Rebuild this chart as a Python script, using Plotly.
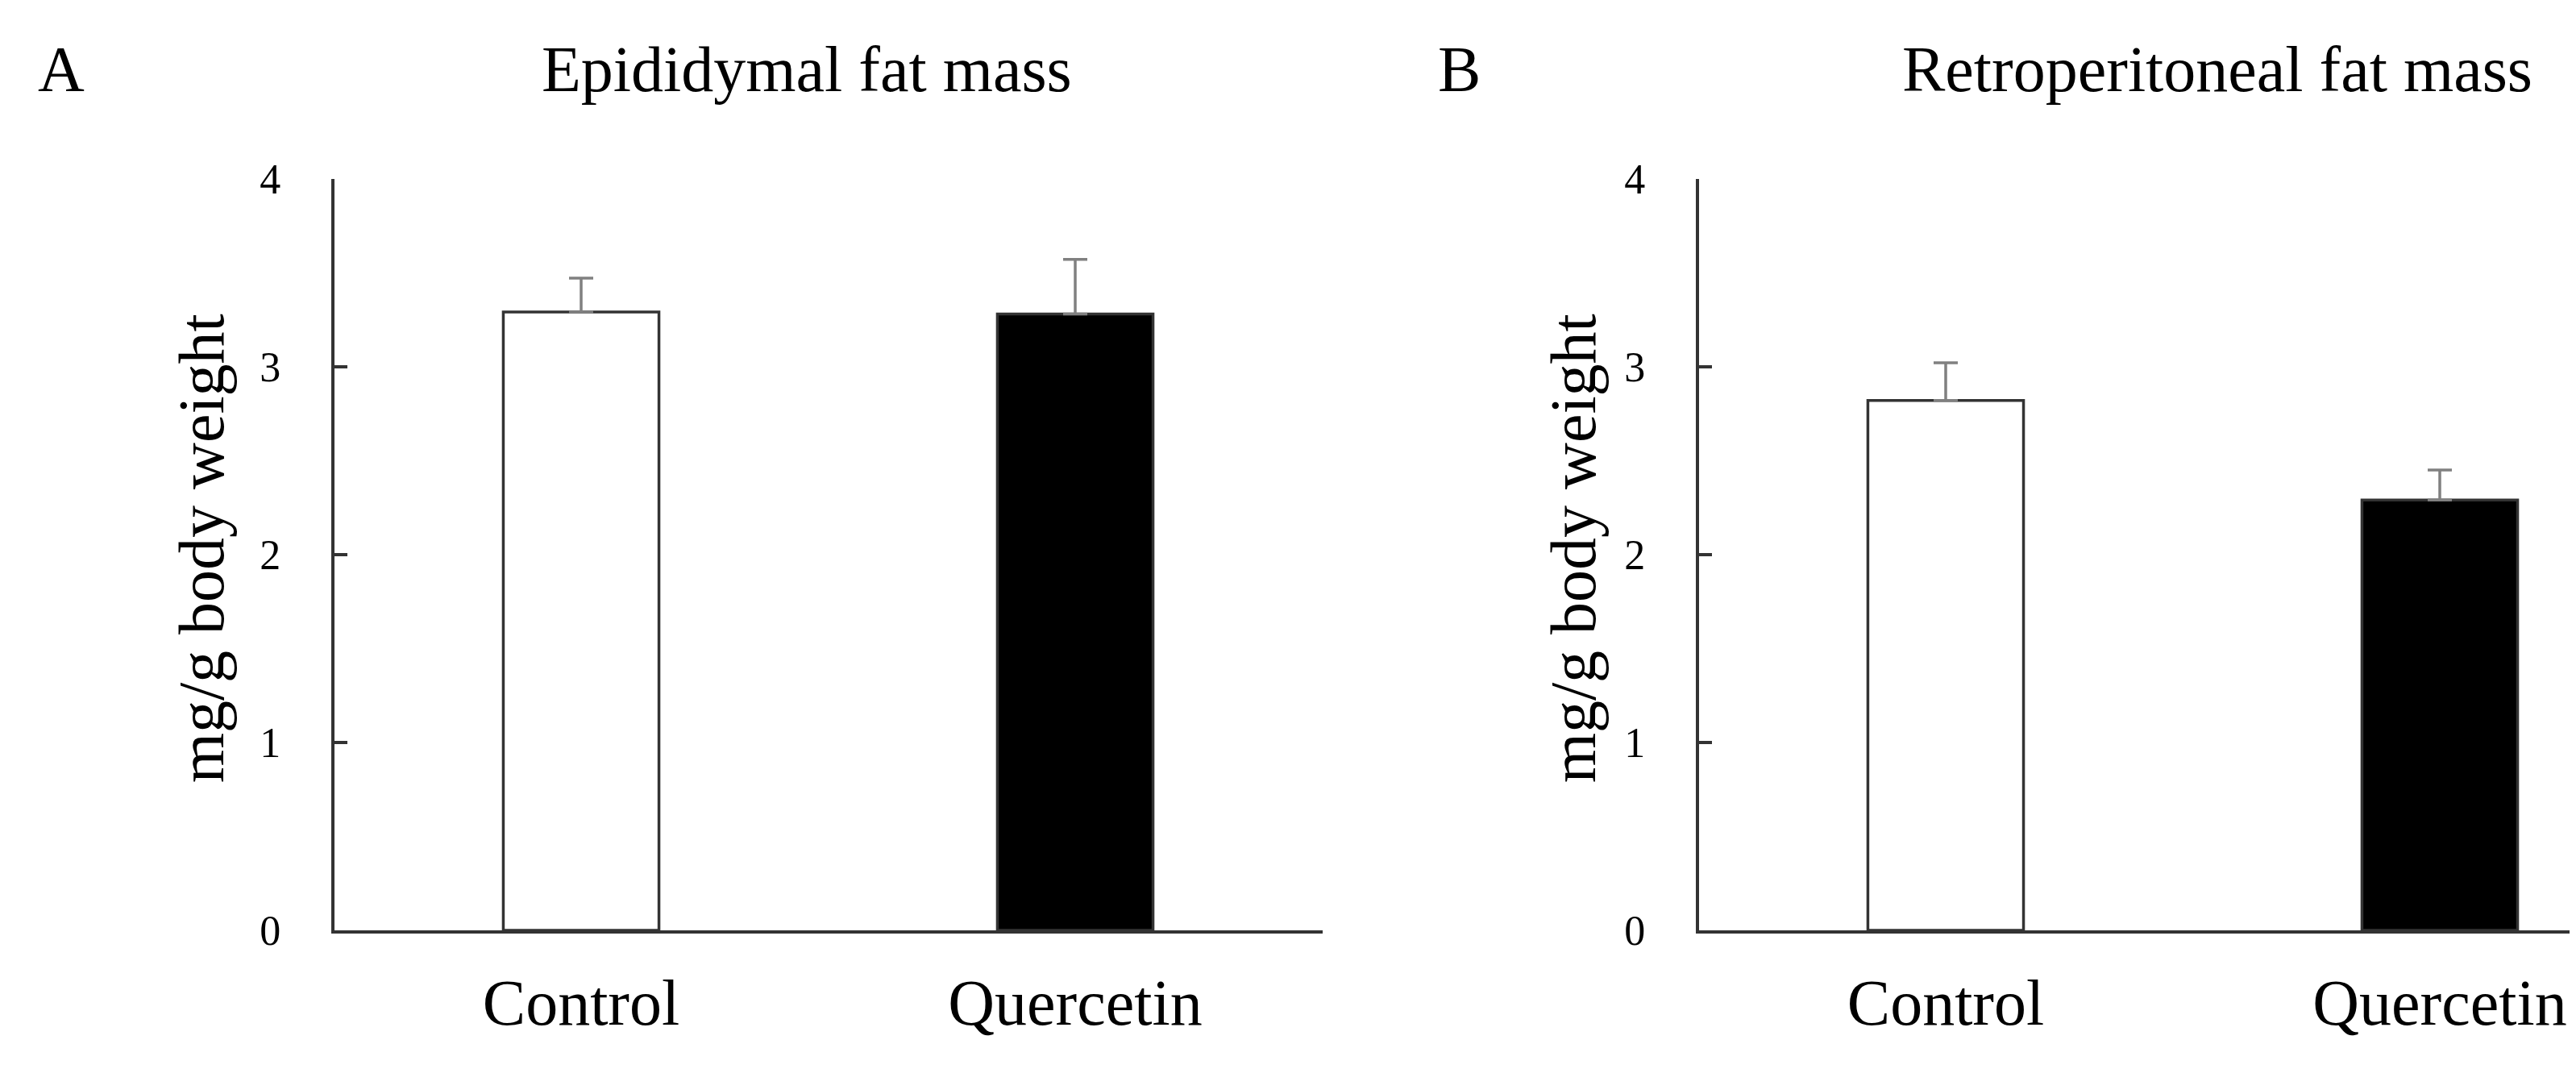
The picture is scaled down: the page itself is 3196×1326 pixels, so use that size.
import plotly.graph_objects as go

# values (mean and upper error, mg/g body weight)
groups = ["Control", "Quercetin"]
epididymal_mean = [3.29, 3.28]
epididymal_err = [0.18, 0.29]
retro_mean = [2.82, 2.29]
retro_err = [0.20, 0.16]
y_ticks = [0, 1, 2, 3, 4]

W, H = 3196, 1326
FONT = "Liberation Serif, Times New Roman, serif"
AXIS_COLOR = "#333333"

# the photographed page is slightly shifted/squeezed against the figure,
# so target pixel positions are converted back before use
SY, OY = 0.9605, 35.8
SX, OX = 1.0, 5.5


def px_x(p):
    return ((p - OX) / SX) / W


def px_y(p):
    return 1 - ((p - OY) / SY) / H


def bar(x, y, err, xaxis, yaxis):
    return go.Bar(
        x=x, y=y, width=0.315, xaxis=xaxis, yaxis=yaxis,
        marker=dict(color=["white", "black"], line=dict(color=AXIS_COLOR, width=3.5)),
        error_y=dict(type="data", array=err, arrayminus=[0] * len(err), symmetric=False,
                     color="#808080", thickness=3.5, width=15),
        showlegend=False,
    )


fig = go.Figure()
fig.add_trace(bar(groups, epididymal_mean, epididymal_err, "x", "y"))
fig.add_trace(bar(groups, retro_mean, retro_err, "x2", "y2"))

xaxis_style = dict(type="category", showline=True, linecolor=AXIS_COLOR, linewidth=3.5,
                   ticks="", showgrid=False, zeroline=False, ticklabelstandoff=17,
                   tickfont=dict(family=FONT, size=80, color="black"))
yaxis_style = dict(range=[0, 4], tickvals=y_ticks, showline=True, linecolor=AXIS_COLOR,
                   linewidth=3.5, ticks="inside", ticklen=17, tickwidth=3.5,
                   tickcolor=AXIS_COLOR, showgrid=False, zeroline=False,
                   ticklabelstandoff=52, tickfont=dict(family=FONT, size=52, color="black"),
                   domain=[px_y(1158), px_y(222)])

# right panel is cut at the page edge: same category width as the left one
left_x0, left_x1 = px_x(412), px_x(1638)
right_x0 = px_x(2105)
cat_width = (left_x1 - left_x0) / 2
right_end = -0.5 + (1.0 - right_x0) / cat_width

fig.update_layout(
    width=W, height=H,
    margin=dict(l=0, r=0, t=0, b=0),
    paper_bgcolor="white", plot_bgcolor="white",
    xaxis=dict(xaxis_style, domain=[left_x0, left_x1], range=[-0.5, 1.5], anchor="y"),
    yaxis=dict(yaxis_style, anchor="x"),
    xaxis2=dict(xaxis_style, domain=[right_x0, 1.0], range=[-0.5, right_end], anchor="y2"),
    yaxis2=dict(yaxis_style, anchor="x2"),
    font=dict(family=FONT, color="black"),
)

annotations = [
    ("A", 73, 86, 80, 0),
    ("Epididymal fat mass", 998, 86, 80, 0),
    ("B", 1808, 86, 80, 0),
    ("Retroperitoneal fat mass", 2748, 86, 80, 0),
    ("mg/g body weight", 247, 683, 80, -90),
    ("mg/g body weight", 1949, 683, 80, -90),
]
for text, x, y, size, angle in annotations:
    fig.add_annotation(text=text, x=px_x(x), y=px_y(y), xref="paper", yref="paper",
                       xanchor="center", yanchor="middle", showarrow=False, textangle=angle,
                       font=dict(family=FONT, size=size, color="black"))

fig.write_html("out.html")
